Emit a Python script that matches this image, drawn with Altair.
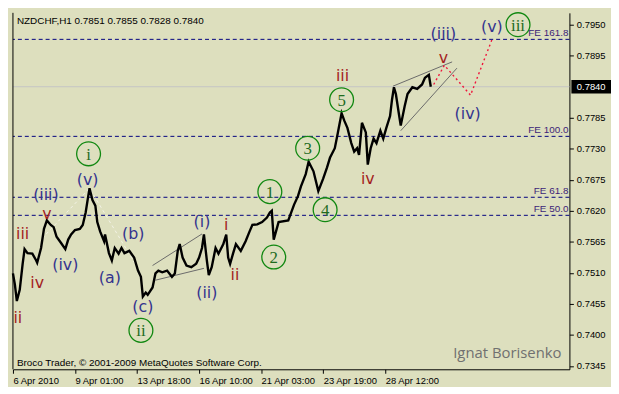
import altair as alt
import pandas as pd

BG = "#DDDFBE"
W, H = 562, 360

# ---- price path (bar index = hours from chart start, price) ----
bar_idx = [0,2,4,7,10,12,15,20,24,25,
           29,32,35,39,42,45,50,54,57,60,
           64,69,72,75,77,79,82,85,87,90,
           94,95,99,102,105,109,112,115,120,125,
           129,132,134,137,139,144,147,150,154,159,
           164,167,170,172,175,179,184,189,192,195,
           197,200,202,205,209,212,217,220,222,224,
           227,230,235,240,244,247,252,257,262,265,
           267,269,274,284,290,294,297,302,305,310,
           315,320,324,327,332,335,339,342,345,349,
           352,355,357,360,364,366,369,372,375,379,
           382,385,389,391,393,395,398,400,404,407,
           412,417,422,425,429,431]
bar_price = [0.7509,0.7489,0.7460,0.7480,0.7526,0.7552,0.7545,0.7544,0.7532,0.7528,
             0.7554,0.7588,0.7603,0.7595,0.7591,0.7574,0.7562,0.7552,0.7569,0.7578,
             0.7586,0.7588,0.7595,0.7617,0.7639,0.7660,0.7639,0.7629,0.7600,0.7583,
             0.7566,0.7578,0.7545,0.7532,0.7554,0.7544,0.7554,0.7545,0.7549,0.7537,
             0.7514,0.7503,0.7468,0.7475,0.7471,0.7484,0.7509,0.7514,0.7511,0.7514,
             0.7503,0.7509,0.7549,0.7561,0.7537,0.7523,0.7520,0.7526,0.7537,0.7554,
             0.7578,0.7532,0.7506,0.7520,0.7554,0.7544,0.7561,0.7578,0.7537,0.7526,
             0.7544,0.7561,0.7549,0.7566,0.7583,0.7595,0.7596,0.7600,0.7608,0.7617,
             0.7620,0.7569,0.7600,0.7603,0.7631,0.7646,0.7663,0.7685,0.7707,0.7690,
             0.7655,0.7677,0.7697,0.7714,0.7731,0.7757,0.7793,0.7779,0.7767,0.7740,
             0.7725,0.7731,0.7719,0.7776,0.7759,0.7702,0.7731,0.7748,0.7740,0.7762,
             0.7748,0.7766,0.7788,0.7817,0.7839,0.7827,0.7793,0.7771,0.7805,0.7827,
             0.7839,0.7836,0.7844,0.7856,0.7861,0.7840]

# ---- axis ticks ----
x_tick_idx = [0, 64, 128, 192, 256, 320, 384]
x_tick_labels = ["6 Apr 2010", "9 Apr 01:00", "13 Apr 18:00", "16 Apr 10:00",
                 "21 Apr 03:00", "23 Apr 19:00", "28 Apr 12:00"]
y_ticks = [0.7345, 0.7400, 0.7455, 0.7510, 0.7565, 0.7620, 0.7675,
           0.7730, 0.7785, 0.7895, 0.7950]
last_price = 0.7840

# ---- Fibonacci expansion levels ----
fe_names = ["FE 161.8", "FE 100.0", "FE 61.8", "FE 50.0"]
fe_prices = [0.7924, 0.7752, 0.7644, 0.7612]

# ---- helper lines ----
wedge_group = ["a", "a", "b", "b", "c", "c", "d", "d"]
wedge_idx = [144, 195, 147, 197, 392, 453, 400, 458]
wedge_price = [0.7523, 0.7579, 0.7497, 0.7518, 0.7841, 0.7884, 0.7762, 0.7873]

chan_group = ["a", "a", "b", "b"]
chan_idx = [30, 79, 80, 129]
chan_price = [0.7571, 0.7660, 0.7657, 0.7518]

proj_idx = [434, 445, 472, 494]
proj_price = [0.7844, 0.7878, 0.7825, 0.7923]

# ---- wave labels ----
blue_text = ["(iii)", "(iv)", "(v)", "(a)", "(b)", "(c)", "(i)", "(ii)", "(iii)", "(iv)", "(v)"]
blue_idx = [34, 54, 77, 100, 124, 134, 195, 200, 444, 469, 494]
blue_price = [0.7648, 0.7523, 0.7675, 0.7501, 0.7579, 0.7450, 0.7600, 0.7475, 0.7933, 0.7791, 0.7945]

red_text = ["iii", "v", "iv", "ii", "i", "ii", "iii", "iv", "v"]
red_idx = [10, 35, 25, 5, 220, 229, 340, 366, 444]
red_price = [0.7578, 0.7614, 0.7492, 0.7429, 0.7595, 0.7506, 0.7859, 0.7677, 0.7890]

green_text = ["i", "ii", "1", "2", "3", "4", "5", "iii"]
green_idx = [78, 132, 265, 269, 304, 322, 339, 521]
green_price = [0.7721, 0.7408, 0.7654, 0.7538, 0.7731, 0.7622, 0.7817, 0.7950]

xs = alt.Scale(domain=[0, 574], nice=False, zero=False)
ys = alt.Scale(domain=[0.7339, 0.7971], nice=False, zero=False)

label_expr = "[" + ",".join("'%s'" % s for s in x_tick_labels) + "][round(datum.value/64)]"
xaxis = alt.Axis(values=x_tick_idx, labelExpr=label_expr, orient="bottom", title=None,
                 grid=False, domainColor="black", tickColor="black", tickSize=4,
                 labelAlign="left", labelPadding=2, labelFont="Liberation Sans",
                 labelFontSize=9.5, labelColor="black", labelOverlap=False, labelFlush=False)
yaxis = alt.Axis(orient="right", values=y_ticks, format=".4f", title=None, grid=False,
                 domainColor="black", tickColor="black", tickSize=4, labelPadding=3,
                 labelFont="Liberation Sans", labelFontSize=9.5, labelColor="black",
                 labelOverlap=False)


def X(f):
    return alt.X(f, type="quantitative", scale=xs, axis=xaxis)


def Y(f):
    return alt.Y(f, type="quantitative", scale=ys, axis=yaxis)


price_df = pd.DataFrame({"idx": bar_idx, "price": bar_price})
fe_df = pd.DataFrame({"name": fe_names, "price": fe_prices})
wedge_df = pd.DataFrame({"g": wedge_group, "idx": wedge_idx, "price": wedge_price})
chan_df = pd.DataFrame({"g": chan_group, "idx": chan_idx, "price": chan_price})
proj_df = pd.DataFrame({"idx": proj_idx, "price": proj_price})
blue_df = pd.DataFrame({"t": blue_text, "idx": blue_idx, "price": blue_price})
red_df = pd.DataFrame({"t": red_text, "idx": red_idx, "price": red_price})
green_df = pd.DataFrame({"t": green_text, "idx": green_idx, "price": green_price})
last_df = pd.DataFrame({"price": [last_price], "t": ["%.4f" % last_price]})
one = pd.DataFrame({"a": [0]})

fe_rules = alt.Chart(fe_df).mark_rule(color="#000080", strokeDash=[4, 3], strokeWidth=1).encode(y=Y("price"))
cur_rule = alt.Chart(last_df).mark_rule(color="#C4C4C4", strokeWidth=1).encode(y=Y("price"))
left_border = alt.Chart(one).mark_rule(color="black", strokeWidth=1).encode(
    x=alt.value(0), y=alt.value(0), y2=alt.value(H))

chan = alt.Chart(chan_df).mark_line(color="#F2F2E6", strokeDash=[3, 3], strokeWidth=1).encode(
    x=X("idx"), y=Y("price"), detail="g:N")
wedges = alt.Chart(wedge_df).mark_line(color="#6A6A6A", strokeWidth=1).encode(
    x=X("idx"), y=Y("price"), detail="g:N")
price_line = alt.Chart(price_df).mark_line(color="black", strokeWidth=2.4).encode(
    x=X("idx"), y=Y("price"))
proj = alt.Chart(proj_df).mark_line(color="#F0143C", strokeDash=[2, 3], strokeWidth=1.4).encode(
    x=X("idx"), y=Y("price"))

circles = alt.Chart(green_df).mark_point(shape="circle", size=580, filled=False,
                                         color="#118811", strokeWidth=1.3, opacity=1).encode(
    x=X("idx"), y=Y("price"))
circle_txt = alt.Chart(green_df).mark_text(font="Liberation Serif", fontSize=17, color="#1E6B1E",
                                           baseline="middle", align="center", dy=1).encode(
    x=X("idx"), y=Y("price"), text="t:N")
blue_txt = alt.Chart(blue_df).mark_text(font="DejaVu Sans", fontSize=16, color="#34348E",
                                        baseline="middle", align="center").encode(
    x=X("idx"), y=Y("price"), text="t:N")
red_txt = alt.Chart(red_df).mark_text(font="DejaVu Sans", fontSize=16, color="#A31E1E",
                                      baseline="middle", align="center").encode(
    x=X("idx"), y=Y("price"), text="t:N")
fe_txt = alt.Chart(fe_df).mark_text(font="Liberation Sans", fontSize=10, color="#3C1E78",
                                    baseline="bottom", align="right", dy=-1).encode(
    x=alt.value(W - 1), y=Y("price"), text="name:N")

title_txt = alt.Chart(one).mark_text(text="NZDCHF,H1  0.7851 0.7855 0.7828 0.7840",
                                     font="Liberation Sans", fontSize=10, color="black",
                                     align="left", baseline="middle").encode(
    x=alt.value(4), y=alt.value(8))
copy_txt = alt.Chart(one).mark_text(text="Broco Trader, \u00a9 2001-2009 MetaQuotes Software Corp.",
                                    font="Liberation Sans", fontSize=10, color="black",
                                    align="left", baseline="middle").encode(
    x=alt.value(4), y=alt.value(H - 6))
author_txt = alt.Chart(one).mark_text(text="Ignat Borisenko", font="Open Sans", fontSize=15,
                                      color="#707070", align="right", baseline="middle").encode(
    x=alt.value(W - 8), y=alt.value(H - 16))

box = alt.Chart(last_df).mark_point(shape="M-1,-0.34L1,-0.34L1,0.34L-1,0.34Z", size=1600,
                                    filled=True, color="black", opacity=1).encode(
    x=alt.value(W + 22), y=Y("price"))
box_txt = alt.Chart(last_df).mark_text(font="Liberation Sans", fontSize=9.5, color="white",
                                       align="center", baseline="middle").encode(
    x=alt.value(W + 22), y=Y("price"), text="t:N")

chart = alt.layer(
    fe_rules, cur_rule, left_border, chan, wedges, price_line, proj,
    circles, circle_txt, blue_txt, red_txt, fe_txt,
    title_txt, copy_txt, author_txt, box, box_txt
).properties(
    width=W, height=H, background=BG, padding=0
).configure_view(stroke=None)

chart.save("out.html", embed_options={"renderer": "svg", "actions": False})
